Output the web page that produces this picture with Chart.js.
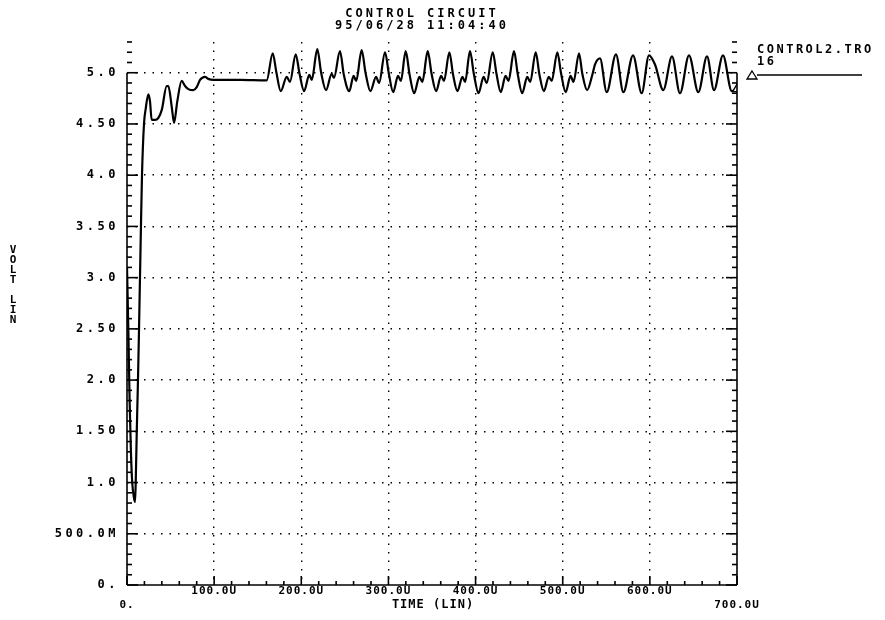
<!DOCTYPE html>
<html>
<head>
<meta charset="utf-8">
<title>CONTROL CIRCUIT</title>
<script src="https://cdn.jsdelivr.net/npm/chart.js@4.4.0/dist/chart.umd.min.js"></script>
<style>
  html, body { margin: 0; padding: 0; background: #fff; }
  canvas { display: block; }
</style>
</head>
<body>
<canvas id="myChart" width="885" height="620"></canvas>
<script>
'use strict';

// trace CONTROL2.TRO, time in microseconds, volts
let timeUs = [
  0, 1.5, 3, 4.5, 6, 8, 9.2, 10, 11.2, 12.6, 13.8, 14.9, 16, 17.2, 19.5, 21.5,
  24.5, 26.4, 28.3, 32, 36, 40, 45.5, 47.5, 51.3, 54, 57.7, 62.7, 66.6, 70.4,
  76, 80, 83.8, 89.5, 93.2, 99, 130, 160.3,
  167.2, 171.5, 176.4, 183.3, 187.0,
  193.6, 198.0, 203.2, 209.2, 212.0,
  218.4, 222.8, 228.4, 234.9, 237.5,
  244.4, 248.8, 255.1, 260.0, 263.0,
  269.3, 273.7, 279.3, 285.8, 289.3,
  296.1, 300.5, 305.5, 311.0, 314.3,
  319.8, 324.3, 329.6, 335.5, 338.9,
  345.1, 349.5, 354.8, 360.4, 363.8,
  369.9, 374.2, 379.2, 384.9, 388.0,
  393.6, 398.0, 403.4, 409.2, 412.8,
  419.7, 424.0, 428.9, 434.4, 437.8,
  444.1, 448.5, 453.5, 459.3, 462.7,
  469.0, 473.3, 478.4, 484.0, 487.4,
  493.8, 498.2, 503.4, 509.0, 512.4,
  518.7, 522.5, 528.0, 534.0, 537.0,
  542.8, 550.5, 561.1, 569.6, 580.7, 590.6, 599.0, 605.9, 615.4,
  625.4, 634.6, 644.9, 655.6, 665.6, 673.6, 683.9, 694.0, 700.0
];
let voltV = [
  3.1, 2.5, 1.8, 1.3, 1.0, 0.85, 0.81, 1.0, 1.5, 2.0, 2.5, 3.0, 3.5, 4.0, 4.5, 4.65,
  4.79, 4.72, 4.54, 4.54, 4.56, 4.64, 4.87, 4.87, 4.67, 4.51, 4.72, 4.92, 4.87, 4.84,
  4.83, 4.86, 4.93, 4.96, 4.94, 4.93, 4.93, 4.925,
  5.19, 5.0, 4.82, 4.96, 4.91,
  5.18, 4.99, 4.82, 4.98, 4.93,
  5.23, 5.0, 4.83, 4.99, 4.95,
  5.21, 4.98, 4.82, 4.97, 4.92,
  5.22, 5.0, 4.82, 4.96, 4.9,
  5.2, 4.99, 4.81, 4.97, 4.92,
  5.21, 4.98, 4.8, 4.96, 4.91,
  5.21, 4.99, 4.82, 4.97, 4.92,
  5.2, 4.98, 4.82, 4.96, 4.91,
  5.21, 4.99, 4.8, 4.96, 4.9,
  5.2, 4.99, 4.81, 4.97, 4.92,
  5.21, 4.98, 4.8, 4.96, 4.91,
  5.2, 4.98, 4.82, 4.96, 4.92,
  5.2, 4.99, 4.81, 4.97, 4.91,
  5.19, 4.99, 4.83, 4.98, 5.08,
  5.14, 4.81, 5.18, 4.81, 5.17, 4.8, 5.17, 5.08, 4.83,
  5.16, 4.8, 5.17, 4.81, 5.16, 4.83, 5.17, 4.82, 4.84
];

let xTicks = [0, 100, 200, 300, 400, 500, 600, 700];
let xTickLabels = ['0.', '100.0U', '200.0U', '300.0U', '400.0U', '500.0U', '600.0U', '700.0U'];
let yTicks = [0, 0.5, 1, 1.5, 2, 2.5, 3, 3.5, 4, 4.5, 5];
let yTickLabels = ['0.', '500.0M', '1.0', '1.50', '2.0', '2.50', '3.0', '3.50', '4.0', '4.50', '5.0'];

let chartTitle = ['CONTROL CIRCUIT', '95/06/28 11:04:40'];
let xTitle = 'TIME (LIN)';
let yTitle = ['V', 'O', 'L', 'T', '', 'L', 'I', 'N'];
let traceName = 'CONTROL2.TRO';
let traceIndex = '16';

let plotFont = "'DejaVu Sans Mono', monospace";
let labelSpacing = { x: '1px', y: '3.5px' };

function hideEdge(value, edges) {
  return edges.includes(value) ? 'rgba(0,0,0,0)' : '#000';
}

function tick(ctx, x1, y1, x2, y2) {
  ctx.beginPath();
  ctx.moveTo(x1, y1);
  ctx.lineTo(x2, y2);
  ctx.stroke();
}

const plotterDecor = {
  id: 'plotterDecor',
  beforeDraw(chart) {
    for (const id of Object.keys(labelSpacing)) {
      let sc = chart.scales[id];
      if (sc && !sc.spacedLabels) {
        let drawLabels = sc.drawLabels;
        sc.drawLabels = function (area) {
          this.ctx.letterSpacing = labelSpacing[id];
          drawLabels.call(this, area);
          this.ctx.letterSpacing = '0px';
        };
        sc.spacedLabels = true;
      }
    }
  },
  afterDraw(chart) {
    const ctx = chart.ctx;
    const xs = chart.scales.x;
    const ys = chart.scales.y;
    const left = xs.getPixelForValue(0);
    const right = xs.getPixelForValue(700);
    const bottom = ys.getPixelForValue(0);
    const top5 = ys.getPixelForValue(5);

    ctx.save();
    ctx.strokeStyle = '#000';
    ctx.fillStyle = '#000';
    ctx.lineWidth = 1.6;

    // axis lines
    tick(ctx, left, bottom, left, top5);
    tick(ctx, right, bottom, right, top5);
    tick(ctx, left, bottom, right, bottom);

    // y ticks, pointing inward on both sides
    for (let i = 0; i <= 53; i++) {
      let py = ys.getPixelForValue(i / 10);
      let len = (i % 5 === 0 && i <= 50) ? 11 : 5;
      tick(ctx, left, py, left + len, py);
      tick(ctx, right, py, right - len, py);
    }
    // x ticks, pointing up
    for (let t = 0; t <= 700; t += 20) {
      let px = xs.getPixelForValue(t);
      let len = t % 100 === 0 ? 9 : 4;
      tick(ctx, px, bottom, px, bottom - len);
    }

    ctx.letterSpacing = '3px';
    ctx.font = 'bold 12px ' + plotFont;
    ctx.textAlign = 'center';
    ctx.textBaseline = 'middle';
    ctx.fillText(chartTitle[0], 422, 14);
    ctx.fillText(chartTitle[1], 422, 26);

    ctx.letterSpacing = '1px';
    ctx.fillText(xTitle, 433, 605);

    ctx.letterSpacing = '0px';
    ctx.font = 'bold 11px ' + plotFont;
    yTitle.forEach((ch, i) => {
      if (ch) ctx.fillText(ch, 13, 250 + i * 10);
    });

    // trace legend
    ctx.letterSpacing = '2.5px';
    ctx.font = 'bold 12px ' + plotFont;
    ctx.textAlign = 'left';
    ctx.fillText(traceName, 757, 50);
    ctx.fillText(traceIndex, 757, 62);
    ctx.letterSpacing = '0px';
    ctx.lineWidth = 1.3;
    tick(ctx, 757, 75, 862, 75);
    ctx.beginPath();
    ctx.moveTo(752, 71);
    ctx.lineTo(757, 79);
    ctx.lineTo(747, 79);
    ctx.closePath();
    ctx.stroke();
    ctx.restore();
  }
};

let traceData = timeUs.map((t, i) => ({ x: t, y: voltV[i] }));
let lastIndex = traceData.length - 1;

const config = {
  type: 'line',
  data: {
    datasets: [
      {
        label: traceName,
        data: traceData,
        borderColor: '#000',
        borderWidth: 2.2,
        cubicInterpolationMode: 'monotone',
        pointStyle: 'triangle',
        pointRadius: (c) => (c.dataIndex === lastIndex ? 5 : 0),
        pointBackgroundColor: '#fff',
        pointBorderColor: '#000',
        pointBorderWidth: 1.3,
        fill: false,
      },
    ],
  },
  options: {
    responsive: false,
    animation: false,
    devicePixelRatio: 1,
    events: [],
    layout: { padding: { top: 42, right: 148, left: 0, bottom: 0 } },
    plugins: {
      legend: { display: false },
      tooltip: { enabled: false },
      title: { display: false },
    },
    scales: {
      x: {
        type: 'linear',
        min: 0,
        max: 700,
        afterFit: (s) => { s.height = 35; },
        afterBuildTicks: (s) => { s.ticks = xTicks.map((v) => ({ value: v })); },
        grid: {
          color: (c) => hideEdge(c.tick ? c.tick.value : -1, [0, 700]),
          lineWidth: 1.4,
          drawTicks: false,
        },
        border: { display: false, dash: [1.5, 7] },
        ticks: {
          autoSkip: false,
          maxRotation: 0,
          padding: 0,
          color: '#000',
          font: { family: plotFont, size: 11, weight: 'bold', lineHeight: 1.2 },
          callback: (value) => {
            let label = xTickLabels[xTicks.indexOf(value)];
            return (value === 0 || value === 700) ? ['', label] : label;
          },
        },
      },
      y: {
        type: 'linear',
        min: 0,
        max: 5.3,
        afterFit: (s) => { s.width = 127; },
        afterBuildTicks: (s) => { s.ticks = yTicks.map((v) => ({ value: v })); },
        grid: {
          color: (c) => hideEdge(c.tick ? c.tick.value : -1, [0]),
          lineWidth: 1.4,
          drawTicks: false,
        },
        border: { display: false, dash: [1.5, 7] },
        ticks: {
          padding: 8,
          color: '#000',
          font: { family: plotFont, size: 12, weight: 'bold' },
          callback: (value) => yTickLabels[yTicks.indexOf(value)],
        },
      },
    },
  },
  plugins: [plotterDecor],
};

let chartCanvas = document.getElementById('myChart').getContext('2d');
const myChart = new Chart(chartCanvas, config);
</script>
</body>
</html>
